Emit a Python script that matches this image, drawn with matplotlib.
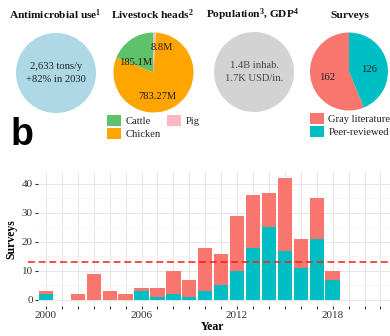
import numpy as np
import matplotlib
matplotlib.use("Agg")
import matplotlib.pyplot as plt
from matplotlib.ticker import MultipleLocator, FixedLocator

plt.rcParams["font.family"] = ["Liberation Serif", "DejaVu Serif"]
plt.rcParams["mathtext.fontset"] = "custom"
plt.rcParams["mathtext.rm"] = "Liberation Serif"
plt.rcParams["mathtext.bf"] = "Liberation Serif:bold"
plt.rcParams["mathtext.default"] = "bf"

# ---- data ----
livestock_cats = ["Cattle", "Chicken", "Pig"]
livestock_heads = [185.1, 783.27, 8.8]          # millions
livestock_labels = ["185.1M", "783.27M", "8.8M"]

survey_types = ["Gray literature", "Peer-reviewed"]
survey_counts = [162, 126]

years = list(range(2000, 2019))
peer_reviewed = [2, 0, 0, 0, 0, 0, 3, 1, 2, 1, 3, 5, 10, 18, 25, 17, 11, 21, 7]
gray_lit = [1, 0, 2, 9, 3, 2, 1, 3, 8, 6, 15, 11, 19, 18, 12, 25, 10, 14, 3]
year_span = (2000, 2021)
year_labels = [2000, 2006, 2012, 2018]

C_CATTLE, C_CHICKEN, C_PIG = "#5ec26a", "#ffa500", "#ffb6c1"
C_GRAY, C_PEER = "#f8766d", "#00bfc4"

W, H = 390, 336
fig = plt.figure(figsize=(W / 100, H / 100), dpi=100)


def px_axes(x0, y0, w, h):
    return fig.add_axes([x0 / W, 1 - (y0 + h) / H, w / W, h / H])


def pie_axes(cx, cy, r):
    ax = px_axes(cx - r, cy - r, 2 * r, 2 * r)
    ax.axis("off")
    return ax


def fix_pie_limits(ax):
    ax.set_xlim(-1, 1)
    ax.set_ylim(-1, 1)
    ax.set_aspect("equal")


title_kw = dict(ha="center", va="center", fontsize=8.2, fontweight="bold", color="#111111")
fig.text(55 / W, 1 - 15 / H, r"Antimicrobial use$^{1}$", **title_kw)
fig.text(153 / W, 1 - 15 / H, r"Livestock heads$^{2}$", **title_kw)
fig.text(252 / W, 1 - 15 / H, r"Population$^{3}$, GDP$^{4}$", **title_kw)
fig.text(350 / W, 1 - 15 / H, "Surveys", **title_kw)

R = 40
leg_kw = dict(frameon=False, fontsize=7.6, handlelength=1.3, handleheight=1.3,
              handletextpad=0.45, labelspacing=0.12, borderaxespad=0, borderpad=0,
              labelcolor="#222222")

# antimicrobial use
ax1 = pie_axes(56, 73, R)
ax1.pie([1], colors=["#add8e6"], radius=1)
fix_pie_limits(ax1)
ax1.text(0, 0, "2,633 tons/y\n+82% in 2030", ha="center", va="center",
         fontsize=7.6, color="#222222", linespacing=1.6)

# livestock heads
ax2 = pie_axes(153.5, 72.5, R)
wedges2, _ = ax2.pie(livestock_heads, colors=[C_CATTLE, C_CHICKEN, C_PIG],
                     startangle=90, counterclock=True, radius=1)
fix_pie_limits(ax2)
for lbl, (dx, dy) in zip(livestock_labels, [(-0.46, 0.25), (0.1, -0.59), (0.2, 0.63)]):
    ax2.text(dx, dy, lbl, ha="center", va="center", fontsize=7.6, color="#2a1a00")
ax2.legend(wedges2, livestock_cats, ncol=2, loc="upper left",
           bbox_to_anchor=((107 - 113.5) / 80, -0.03), columnspacing=0.6, **leg_kw)

# population / GDP
ax3 = pie_axes(254, 72, R)
ax3.pie([1], colors=["#d3d3d3"], radius=1)
fix_pie_limits(ax3)
ax3.text(0, 0, "1.4B inhab.\n1.7K USD/in.", ha="center", va="center",
         fontsize=7.6, color="#444444", linespacing=1.6)

# surveys
ax4 = pie_axes(349, 71.5, 39)
wedges4, _ = ax4.pie(survey_counts, colors=[C_GRAY, C_PEER],
                     startangle=90, counterclock=True, radius=1)
fix_pie_limits(ax4)
for val, (dx, dy) in zip(survey_counts, [(-0.57, -0.15), (0.52, 0.05)]):
    ax4.text(dx, dy, str(val), ha="center", va="center", fontsize=7.6, color="#222222")
ax4.legend(wedges4, survey_types, loc="upper left", bbox_to_anchor=(0.0, -0.03), **leg_kw)

# panel tag
fig.text(11 / W, 1 - 145 / H, "b", fontsize=27, fontweight="bold",
         family="Liberation Sans", ha="left", va="baseline")

# ---- bar chart ----
axb = px_axes(38, 172, 352, 134)
yrs = np.array(years)
peer = np.array(peer_reviewed)
gray = np.array(gray_lit)
axb.bar(yrs, peer, width=0.9, color=C_PEER, zorder=2)
axb.bar(yrs, gray, width=0.9, bottom=peer, color=C_GRAY, zorder=2)

n_years = year_span[1] - year_span[0] + 1
mean_surveys = (peer.sum() + gray.sum()) / n_years
axb.axhline(mean_surveys, xmin=-0.028, xmax=1, color="#ff1a1a", lw=1.1,
            ls=(0, (4.5, 2.5)), zorder=3, clip_on=False)

axb.set_xlim(1999.5, 2021.6)
axb.set_ylim(-2.1, 44.1)
all_years = list(range(year_span[0], year_span[1] + 1))
axb.xaxis.set_major_locator(FixedLocator(all_years))
axb.set_xticklabels([str(y) if y in year_labels else "" for y in all_years])
axb.yaxis.set_major_locator(MultipleLocator(10))
axb.yaxis.set_minor_locator(MultipleLocator(5))
axb.grid(True, which="major", color="#e6e6e6", lw=0.7, zorder=0)
axb.grid(True, which="minor", axis="y", color="#f2f2f2", lw=0.5, zorder=0)
for s in axb.spines.values():
    s.set_visible(False)
axb.tick_params(axis="both", which="major", length=2.2, width=0.8, color="#333333",
                labelsize=8, labelcolor="#333333", pad=1.5)
axb.tick_params(axis="y", which="minor", length=0)
axb.set_xlabel("Year", fontsize=8.5, fontweight="bold", labelpad=0)
axb.set_ylabel("Surveys", fontsize=8.5, fontweight="bold", labelpad=3)
axb.xaxis.set_label_coords((213 - 38) / 352, -(327 - 306) / 134)
axb.xaxis.label.set_va("center")

fig.savefig("out.png", dpi=100)
